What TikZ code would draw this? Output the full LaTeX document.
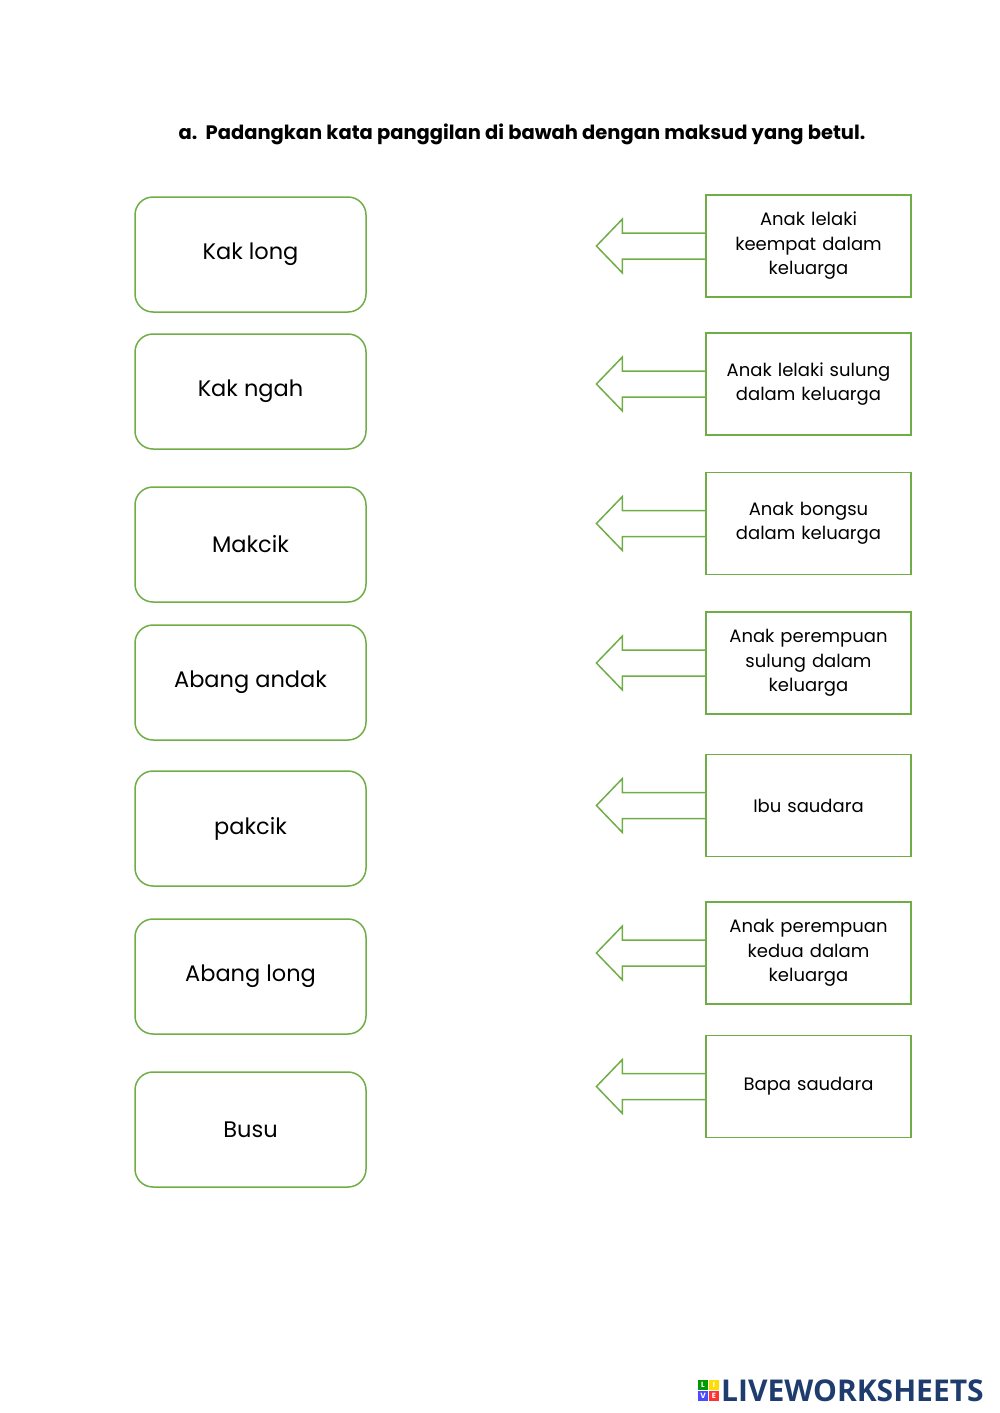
\documentclass[tikz,border=0pt]{standalone}
\usepackage{fontspec}
\setmainfont{Poppins}
\newfontfamily\logofont{Open Sans}
\definecolor{gr}{RGB}{112,173,71}
\definecolor{lw}{RGB}{30,60,110}
\begin{document}
\begin{tikzpicture}[x=1pt,y=-1pt,
  lbox/.style={draw=gr,line width=1.5pt,rounded corners=18pt,minimum width=231pt,minimum height=115pt,font=\fontsize{22.5}{26}\selectfont,align=center},
  rbox/.style={draw=gr,line width=1.5pt,minimum width=203pt,minimum height=102pt,font=\fontsize{18}{24.5}\selectfont,align=center,text width=198pt},
  arr/.style={draw=gr,line width=1.5pt,line join=miter}]
\useasboundingbox (0,0) rectangle (1000,1413);
\node[font=\bfseries\fontsize{19.5}{21}\selectfont] (title) at (522,134) {a.\ \ Padangkan kata panggilan di bawah dengan maksud yang betul.};
\foreach \n/\y/\t in {1/254.5/Kak long,2/391.5/Kak ngah,3/544.5/Makcik,4/682.5/Abang andak,5/828.5/pakcik,6/976.5/Abang long,7/1129.5/Busu}
  \node[lbox] (l\n) at (250.5,\y) {\t};
\foreach \n/\y/\t in {1/246/{Anak lelaki\\keempat dalam\\keluarga},2/384/{Anak lelaki sulung\\dalam keluarga},3/523.5/{Anak bongsu\\dalam keluarga},4/663/{Anak perempuan\\sulung dalam\\keluarga},5/805.5/{Ibu saudara},6/953/{Anak perempuan\\kedua dalam\\keluarga},7/1086.5/{Bapa saudara}}{
  \node[rbox] (r\n) at (808.5,\y) {\t};
  \draw[arr] (r\n.west) ++(0,-13) -- ++(-83,0) -- ++(0,-14) -- ++(-26,27) -- ++(26,27) -- ++(0,-14) -- ++(83,0);
}
\foreach \c/\l/\xx/\yy in {green!60!black/L/703/1385,yellow!80!orange/I/714/1385,blue!70/V/703/1396,red!80/E/714/1396}
  \node[fill=\c,minimum size=10pt,inner sep=0pt,text=white,font=\bfseries\fontsize{7.5}{7.5}\selectfont] (lg\l) at (\xx,\yy) {\l};
\node[anchor=west,text=lw,font=\logofont\bfseries\fontsize{30}{30}\selectfont,inner sep=0pt] (logo) at (721,1391) {LIVEWORKSHEETS};
\end{tikzpicture}
\end{document}
